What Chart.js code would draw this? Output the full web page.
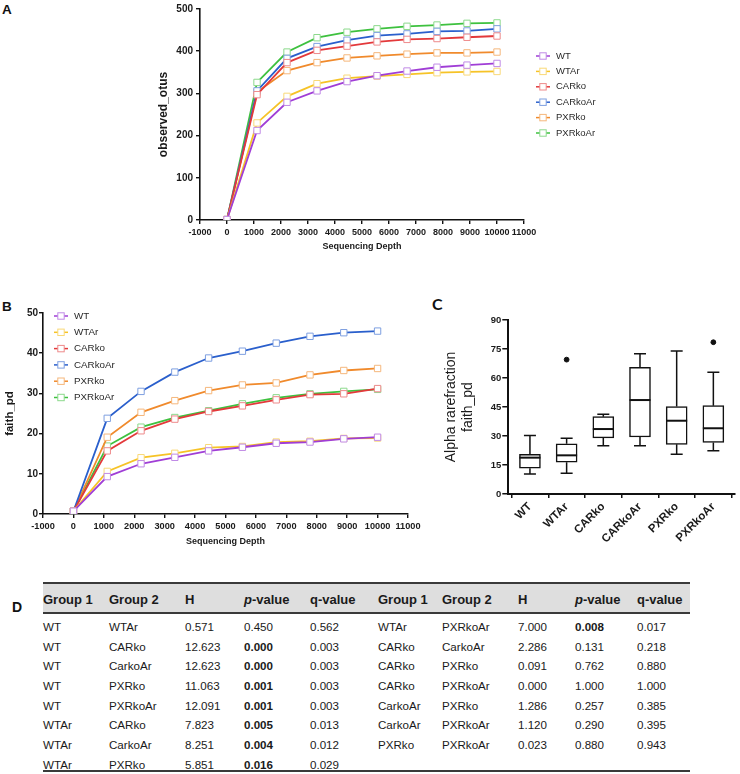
<!DOCTYPE html>
<html>
<head>
<meta charset="utf-8">
<script src="https://cdn.jsdelivr.net/npm/chart.js@4.4.1/dist/chart.umd.min.js"></script>
<style>
  html, body { margin: 0; padding: 0; background: #fff; width: 740px; height: 774px; overflow: hidden; }
  body { position: relative; font-family: "Liberation Sans", Arial, sans-serif; color: #1a1a1a; }
  canvas { position: absolute; }
  .plabel { position: absolute; font-weight: bold; color: #111; line-height: 1; }
  .cell { position: absolute; height: 20px; line-height: 20px; font-size: 11.6px; white-space: nowrap; color: #1a1a1a; }
  .hcell { position: absolute; height: 20px; line-height: 20px; font-size: 13px; font-weight: bold; white-space: nowrap; color: #1a1a1a; }
</style>
</head>
<body>
<div class="plabel" style="left:2px;top:3px;font-size:13.5px;">A</div>
<div class="plabel" style="left:2px;top:300px;font-size:13.5px;">B</div>
<div class="plabel" style="left:432px;top:296px;font-size:16px;font-family:Lato, 'Liberation Sans', sans-serif;">C</div>
<div class="plabel" style="left:12px;top:600px;font-size:14px;">D</div>

<canvas id="chartA" width="740" height="260" style="left:0;top:0;width:740px;height:260px;"></canvas>
<canvas id="chartB" width="430" height="262" style="left:0;top:290px;width:430px;height:262px;"></canvas>
<canvas id="chartC" width="310" height="280" style="left:430px;top:290px;width:310px;height:280px;"></canvas>
<div id="tableD"></div>

<script>
// ---------------- DATA ----------------
const groups = ['WT', 'WTAr', 'CARko', 'CARkoAr', 'PXRko', 'PXRkoAr'];
const depths = [1, 1112, 2223, 3334, 4445, 5556, 6667, 7778, 8889, 10000];

// Panel A: observed_otus
const otusWT      = [1, 212, 279, 306, 328, 342, 353, 362, 367, 371];
const otusWTAr    = [1, 230, 293, 323, 336, 341, 345, 349, 351, 352];
const otusCARko   = [1, 297, 373, 402, 412, 422, 428, 430, 433, 436];
const otusCARkoAr = [1, 306, 383, 411, 426, 437, 441, 447, 448, 453];
const otusPXRko   = [1, 303, 354, 373, 384, 389, 393, 396, 396, 398];
const otusPXRkoAr = [1, 326, 398, 432, 445, 453, 459, 462, 466, 467];

// Panel B: faith_pd
const pdWT      = [0.7, 9.3, 12.5, 14.1, 15.7, 16.6, 17.6, 17.9, 18.7, 19.1];
const pdWTAr    = [0.7, 10.6, 14.0, 15.1, 16.5, 16.8, 17.9, 18.1, 18.8, 18.9];
const pdCARko   = [0.7, 15.7, 20.7, 23.6, 25.5, 26.9, 28.4, 29.7, 29.9, 31.2];
const pdCARkoAr = [0.7, 23.8, 30.5, 35.3, 38.8, 40.5, 42.5, 44.2, 45.1, 45.5];
const pdPXRko   = [0.7, 19.1, 25.3, 28.2, 30.7, 32.1, 32.6, 34.6, 35.7, 36.2];
const pdPXRkoAr = [0.7, 16.9, 21.6, 24.0, 25.7, 27.4, 28.9, 29.9, 30.5, 31.0];

// Panel C: box plot (alpha rarefraction faith_pd)
const boxMin    = [10.3, 10.7, 25.0, 25.0, 20.5, 22.4];
const boxQ1     = [13.3, 16.4, 29.0, 29.5, 25.7, 26.7];
const boxMedian = [18.8, 20.0, 33.6, 48.6, 37.9, 34.0];
const boxQ3     = [20.5, 26.0, 40.0, 65.5, 45.2, 45.7];
const boxMax    = [30.3, 28.8, 41.2, 72.6, 74.0, 63.0];
const outlierGroup = [1, 5];
const outlierValue = [69.5, 78.5];

// Panel D: Kruskal-Wallis pairwise table
const tGroup1 = ['WT','WT','WT','WT','WT','WTAr','WTAr','WTAr','WTAr','CARko','CARko','CARko','CarkoAr','CarkoAr','PXRko'];
const tGroup2 = ['WTAr','CARko','CarkoAr','PXRko','PXRkoAr','CARko','CarkoAr','PXRko','PXRkoAr','CarkoAr','PXRko','PXRkoAr','PXRko','PXRkoAr','PXRkoAr'];
const tH      = ['0.571','12.623','12.623','11.063','12.091','7.823','8.251','5.851','7.000','2.286','0.091','0.000','1.286','1.120','0.023'];
const tP      = ['0.450','0.000','0.000','0.001','0.001','0.005','0.004','0.016','0.008','0.131','0.762','1.000','0.257','0.290','0.880'];
const tQ      = ['0.562','0.003','0.003','0.003','0.003','0.013','0.012','0.029','0.017','0.218','0.880','1.000','0.385','0.395','0.943'];

// ---------------- STYLE ----------------
const lineColors  = ['#A03ED6', '#F6C327', '#E3393B', '#2A5FCC', '#F08A2C', '#3EC13F'];
const pointColors = ['#C08AE6', '#F9D978', '#EE8A8B', '#7E9FE0', '#F5B77C', '#8CD98C'];

Chart.defaults.font.family = "'Liberation Sans', Arial, sans-serif";
Chart.defaults.color = '#1a1a1a';

const plainNum = (v) => String(v);

function makeLineDatasets(seriesList) {
  return seriesList.map((vals, i) => ({
    label: groups[i],
    data: vals.map((v, k) => ({ x: depths[k], y: v })),
    borderColor: lineColors[i],
    backgroundColor: lineColors[i],
    borderWidth: 1.8,
    pointStyle: 'rect',
    pointRadius: 4.5,
    pointBorderWidth: 1,
    pointBackgroundColor: '#ffffff',
    pointBorderColor: pointColors[i],
    tension: 0,
    fill: false
  }));
}

const sideLegend = {
  id: 'sideLegend',
  afterDraw(chart, args, opts) {
    const ctx = chart.ctx;
    ctx.save();
    ctx.font = opts.font;
    ctx.textBaseline = 'middle';
    ctx.textAlign = 'left';
    chart.data.datasets.forEach((ds, i) => {
      const y = opts.y + i * opts.spacing;
      const cx = opts.x;
      ctx.strokeStyle = ds.borderColor;
      ctx.lineWidth = 1.5;
      ctx.beginPath(); ctx.moveTo(cx - 7, y); ctx.lineTo(cx + 7, y); ctx.stroke();
      ctx.fillStyle = '#fff';
      ctx.fillRect(cx - 3.2, y - 3.2, 6.4, 6.4);
      ctx.strokeStyle = ds.pointBorderColor;
      ctx.lineWidth = 1;
      ctx.strokeRect(cx - 3.2, y - 3.2, 6.4, 6.4);
      ctx.fillStyle = '#2a2a2a';
      ctx.fillText(ds.label, opts.textX, y);
    });
    ctx.restore();
  }
};

function axisCommon(extra) {
  return Object.assign({
    border: { display: true, color: '#111', width: 1.6 },
    grid: { display: true, drawOnChartArea: false, drawTicks: true, tickLength: 4, color: '#111', lineWidth: 1.4 }
  }, extra);
}

// ---------------- CHART A ----------------
new Chart(document.getElementById('chartA'), {
  type: 'line',
  data: { datasets: makeLineDatasets([otusWT, otusWTAr, otusCARko, otusCARkoAr, otusPXRko, otusPXRkoAr]) },
  options: {
    responsive: false, animation: false,
    layout: { padding: { left: 150, right: 216, top: 7, bottom: 0 } },
    plugins: {
      legend: { display: false }, tooltip: { enabled: false },
      sideLegend: { x: 543, textX: 556, y: 56, spacing: 15.4, font: "9.5px 'Liberation Sans', Arial, sans-serif" }
    },
    scales: {
      x: axisCommon({
        type: 'linear', min: -1000, max: 11000,
        ticks: { stepSize: 1000, padding: 3, font: { size: 9, weight: 'bold' }, color: '#1a1a1a', maxRotation: 0, autoSkip: false, callback: plainNum },
        title: { display: true, text: 'Sequencing Depth', font: { size: 9, weight: 'bold' }, padding: { top: 0, bottom: 8.5 }, color: '#1a1a1a' },
        afterFit(s) { s.height = 40; }
      }),
      y: axisCommon({
        type: 'linear', min: 0, max: 500,
        ticks: { stepSize: 100, padding: 3, font: { size: 10, weight: 'bold' }, color: '#1a1a1a', callback: plainNum },
        title: { display: true, text: 'observed_otus', font: { size: 12, weight: 'bold' }, padding: { top: 6, bottom: 0 }, color: '#1a1a1a' },
        afterFit(s) { s.width = 50; }
      })
    }
  },
  plugins: [sideLegend]
});

// ---------------- CHART B ----------------
new Chart(document.getElementById('chartB'), {
  type: 'line',
  data: { datasets: makeLineDatasets([pdWT, pdWTAr, pdCARko, pdCARkoAr, pdPXRko, pdPXRkoAr]) },
  options: {
    responsive: false, animation: false,
    layout: { padding: { left: 0, right: 22, top: 23, bottom: 0 } },
    plugins: {
      legend: { display: false }, tooltip: { enabled: false },
      sideLegend: { x: 61, textX: 74, y: 26, spacing: 16.3, font: "9.8px 'Liberation Sans', Arial, sans-serif" }
    },
    scales: {
      x: axisCommon({
        type: 'linear', min: -1000, max: 11000,
        ticks: { stepSize: 1000, padding: 3, font: { size: 9.2, weight: 'bold' }, color: '#1a1a1a', maxRotation: 0, autoSkip: false, callback: plainNum },
        title: { display: true, text: 'Sequencing Depth', font: { size: 9, weight: 'bold' }, padding: { top: 0, bottom: 5.5 }, color: '#1a1a1a' },
        afterFit(s) { s.height = 38; }
      }),
      y: axisCommon({
        type: 'linear', min: 0, max: 50,
        ticks: { stepSize: 10, padding: 1, font: { size: 10, weight: 'bold' }, color: '#1a1a1a', callback: plainNum },
        title: { display: true, text: 'faith_pd', font: { size: 11.5, weight: 'bold' }, padding: { top: 3, bottom: 0 }, color: '#1a1a1a' },
        afterFit(s) { s.width = 43; }
      })
    }
  },
  plugins: [sideLegend]
});

// ---------------- CHART C ----------------
const boxWhiskers = {
  id: 'boxWhiskers',
  beforeDatasetsDraw(chart) {
    const { ctx, scales: { x, y } } = chart;
    ctx.save();
    ctx.strokeStyle = '#111';
    ctx.lineWidth = 1.5;
    groups.forEach((g, i) => {
      const px = x.getPixelForValue(i);
      const capHalf = 6;
      ctx.beginPath();
      ctx.moveTo(px, y.getPixelForValue(boxMax[i])); ctx.lineTo(px, y.getPixelForValue(boxQ3[i]));
      ctx.moveTo(px, y.getPixelForValue(boxQ1[i])); ctx.lineTo(px, y.getPixelForValue(boxMin[i]));
      ctx.moveTo(px - capHalf, y.getPixelForValue(boxMax[i])); ctx.lineTo(px + capHalf, y.getPixelForValue(boxMax[i]));
      ctx.moveTo(px - capHalf, y.getPixelForValue(boxMin[i])); ctx.lineTo(px + capHalf, y.getPixelForValue(boxMin[i]));
      ctx.stroke();
    });
    ctx.restore();
  },
  afterDatasetsDraw(chart) {
    const { ctx, scales: { x, y } } = chart;
    ctx.save();
    ctx.strokeStyle = '#111';
    ctx.lineWidth = 2;
    groups.forEach((g, i) => {
      const px = x.getPixelForValue(i);
      const py = y.getPixelForValue(boxMedian[i]);
      ctx.beginPath(); ctx.moveTo(px - 10.5, py); ctx.lineTo(px + 10.5, py); ctx.stroke();
    });
    ctx.restore();
  }
};

new Chart(document.getElementById('chartC'), {
  type: 'bar',
  data: {
    datasets: [
      {
        type: 'bar',
        data: groups.map((g, i) => ({ x: i, y: [boxQ1[i], boxQ3[i]] })),
        backgroundColor: '#ffffff', borderColor: '#111', borderWidth: 1.5, borderSkipped: false,
        barThickness: 21
      },
      {
        type: 'scatter',
        data: outlierGroup.map((g, k) => ({ x: g, y: outlierValue[k] })),
        pointRadius: 2.4, pointBackgroundColor: '#111', pointBorderColor: '#111', showLine: false
      }
    ]
  },
  options: {
    responsive: false, animation: false,
    layout: { padding: { left: 12, right: 2, top: 30, bottom: 0 } },
    plugins: { legend: { display: false }, tooltip: { enabled: false } },
    scales: {
      x: {
        type: 'linear', min: -0.59, max: 5.59, offset: false,
        border: { display: true, color: '#111', width: 2 },
        grid: { display: true, drawOnChartArea: false, drawTicks: true, tickLength: 4, color: '#111', lineWidth: 1.5 },
        afterBuildTicks(s) { s.ticks = groups.map((g, i) => ({ value: i })); },
        ticks: { autoSkip: false, minRotation: 45, maxRotation: 45, padding: 2, font: { size: 11.5, weight: 'bold' }, color: '#1a1a1a',
                 callback: (v) => groups[v] },
        afterFit(s) { s.height = 76; }
      },
      y: {
        type: 'linear', min: 0, max: 90,
        border: { display: true, color: '#111', width: 2 },
        grid: { display: true, drawOnChartArea: false, drawTicks: true, tickLength: 6, color: '#111', lineWidth: 1.5 },
        ticks: { stepSize: 15, padding: 1, font: { size: 9.5, weight: 'bold' }, color: '#1a1a1a', callback: plainNum },
        title: { display: true, text: ['Alpha rarefraction', 'faith_pd'], font: { size: 14, lineHeight: 1.2 }, padding: { top: 0.5, bottom: 0 }, color: '#1a1a1a' },
        afterFit(s) { s.width = 66.3; }
      }
    }
  },
  plugins: [boxWhiskers]
});

// ---------------- TABLE D ----------------
(function buildTable() {
  const root = document.getElementById('tableD');
  const colX = [[43, 109, 185, 244, 310], [378, 442, 518, 575, 637]];
  const headers = ['Group 1', 'Group 2', 'H', '<i>p</i>-value', 'q-value'];
  const left = 42.5, right = 689.5;
  const headTop = 583, headBottom = 613;
  const rowCenters = [626.7, 646.7, 666.2, 686, 705.7, 725.3, 745.3, 765];

  function box(style) { const d = document.createElement('div'); d.style.position = 'absolute'; Object.assign(d.style, style); root.appendChild(d); return d; }
  box({ left: left + 'px', top: headTop + 'px', width: (right - left) + 'px', height: (headBottom - headTop) + 'px', background: '#dedede' });
  box({ left: left + 'px', top: (headTop - 1) + 'px', width: (right - left) + 'px', height: '2px', background: '#3a3a3a' });
  box({ left: left + 'px', top: (headBottom - 1) + 'px', width: (right - left) + 'px', height: '1.5px', background: '#3a3a3a' });
  box({ left: left + 'px', top: '770px', width: (right - left) + 'px', height: '1.5px', background: '#3a3a3a' });

  colX.forEach(cols => {
    headers.forEach((h, c) => {
      const d = document.createElement('div');
      d.className = 'hcell';
      d.style.left = cols[c] + 'px';
      d.style.top = (600 - 10) + 'px';
      d.innerHTML = h;
      root.appendChild(d);
    });
  });

  tGroup1.forEach((g1, r) => {
    const half = r < 8 ? 0 : 1;
    const rowIdx = r < 8 ? r : r - 8;
    const cols = colX[half];
    const vals = [g1, tGroup2[r], tH[r], tP[r], tQ[r]];
    vals.forEach((v, c) => {
      const d = document.createElement('div');
      d.className = 'cell';
      d.style.left = cols[c] + 'px';
      d.style.top = (rowCenters[rowIdx] - 10) + 'px';
      if (c === 3 && parseFloat(v) < 0.05) d.style.fontWeight = 'bold';
      d.textContent = v;
      root.appendChild(d);
    });
  });
})();
</script>
</body>
</html>
